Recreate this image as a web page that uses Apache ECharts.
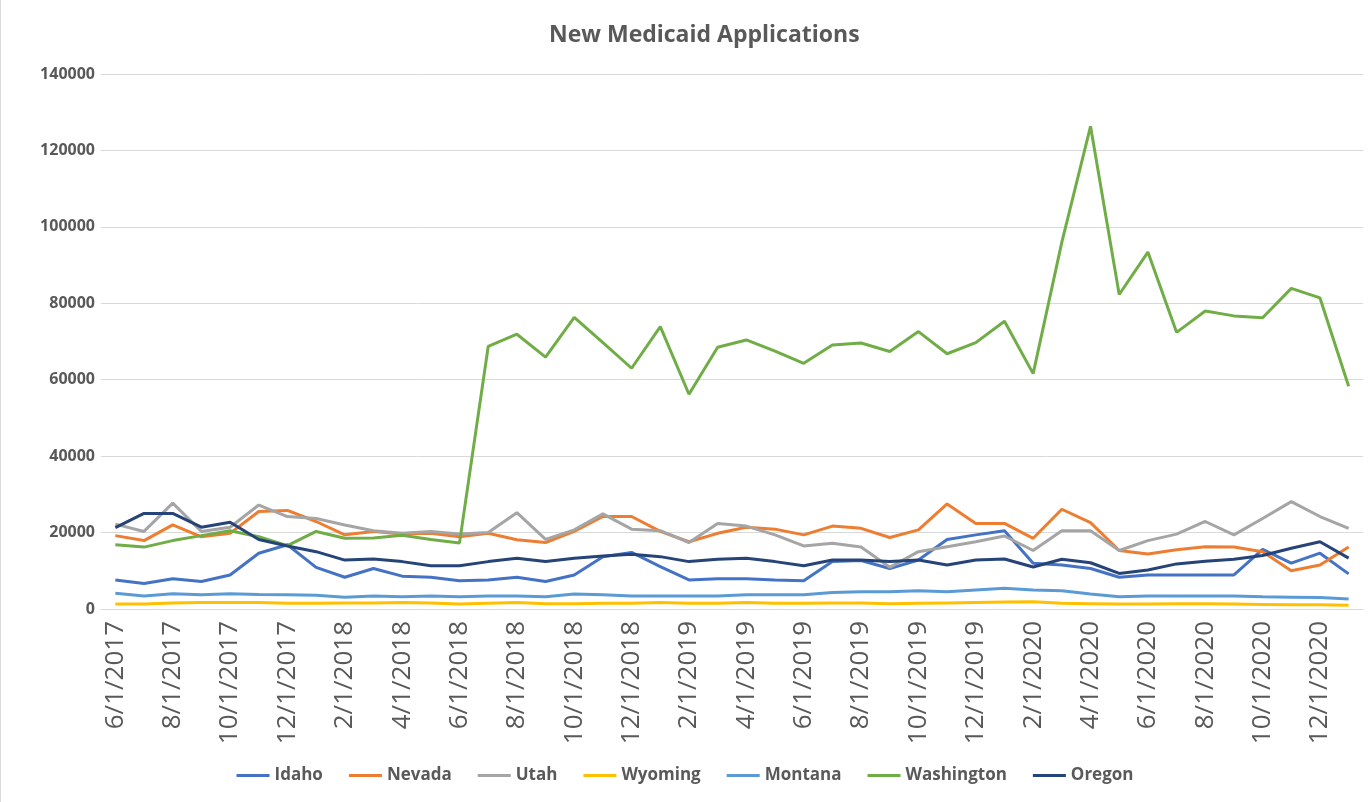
<!DOCTYPE html>
<html>
<head>
<meta charset="utf-8">
<title>New Medicaid Applications</title>
<script src="https://cdn.jsdelivr.net/npm/echarts@6/dist/echarts.min.js"></script>
<style>
    html, body { margin: 0; padding: 0; background: #fff; }
    #chart { width: 1369px; height: 802px; box-sizing: border-box; border-left: 1px solid #d9d9d9; }
</style>
</head>
<body>
<div id="chart"></div>
<script>
// 月份（类目轴）
const months = [
    "6/1/2017", "7/1/2017", "8/1/2017", "9/1/2017", "10/1/2017", "11/1/2017", "12/1/2017",
    "1/1/2018", "2/1/2018", "3/1/2018", "4/1/2018", "5/1/2018", "6/1/2018", "7/1/2018",
    "8/1/2018", "9/1/2018", "10/1/2018", "11/1/2018", "12/1/2018",
    "1/1/2019", "2/1/2019", "3/1/2019", "4/1/2019", "5/1/2019", "6/1/2019", "7/1/2019",
    "8/1/2019", "9/1/2019", "10/1/2019", "11/1/2019", "12/1/2019",
    "1/1/2020", "2/1/2020", "3/1/2020", "4/1/2020", "5/1/2020", "6/1/2020", "7/1/2020",
    "8/1/2020", "9/1/2020", "10/1/2020", "11/1/2020", "12/1/2020",
    "1/1/2021"
];
// 各州数据
const idaho = [7600, 6700, 7900, 7200, 8900, 14600, 16800, 10900, 8300, 10600, 8600, 8300, 7400, 7600, 8300, 7200, 8900, 13700, 14800, 11100, 7600, 7900, 7900, 7600, 7400, 12400, 12700, 10600, 12800, 18200, 19400, 20500, 12000, 11500, 10600, 8300, 8900, 8900, 8900, 8900, 15600, 12000, 14600, 9200];
const nevada = [19200, 17900, 22000, 18900, 19800, 25500, 25800, 22900, 19400, 20300, 19600, 19800, 18900, 19800, 18100, 17400, 20300, 24200, 24200, 20300, 17600, 19800, 21400, 20900, 19400, 21700, 21100, 18700, 20700, 27500, 22400, 22400, 18500, 26100, 22600, 15300, 14400, 15500, 16300, 16200, 15000, 10000, 11500, 16200];
const utah = [22200, 20300, 27700, 20300, 21400, 27200, 24200, 23700, 22000, 20500, 19800, 20300, 19600, 20000, 25200, 18200, 20700, 24900, 20900, 20500, 17400, 22400, 21700, 19400, 16500, 17200, 16200, 10900, 15000, 16300, 17600, 19100, 15300, 20500, 20500, 15300, 17900, 19600, 22900, 19400, 23700, 28100, 24200, 21100];
const wyoming = [1300, 1300, 1600, 1700, 1700, 1700, 1500, 1500, 1600, 1600, 1700, 1600, 1300, 1500, 1700, 1400, 1400, 1500, 1500, 1700, 1500, 1500, 1700, 1500, 1500, 1600, 1600, 1400, 1500, 1600, 1700, 1800, 1900, 1500, 1400, 1300, 1300, 1400, 1400, 1300, 1200, 1100, 1100, 1000];
const montana = [4100, 3400, 4000, 3700, 4000, 3800, 3700, 3600, 3100, 3400, 3200, 3400, 3200, 3400, 3400, 3200, 3900, 3700, 3400, 3400, 3400, 3400, 3700, 3700, 3700, 4300, 4500, 4500, 4800, 4500, 5000, 5400, 5000, 4800, 3900, 3200, 3400, 3400, 3400, 3400, 3200, 3100, 3000, 2600];
const washington = [16800, 16200, 17900, 19200, 20500, 18900, 16600, 20300, 18500, 18600, 19300, 18200, 17300, 68700, 71900, 65900, 76300, 69700, 63000, 73900, 56200, 68500, 70400, 67500, 64300, 69100, 69600, 67400, 72600, 66800, 69700, 75300, 61600, 96000, 126300, 82300, 93400, 72400, 78000, 76700, 76200, 83900, 81400, 58300];
const oregon = [21300, 25000, 25000, 21400, 22700, 18200, 16500, 15000, 12800, 13100, 12400, 11300, 11300, 12400, 13300, 12400, 13300, 13900, 14300, 13700, 12400, 13000, 13300, 12400, 11300, 12800, 12800, 12400, 12800, 11500, 12800, 13100, 11000, 13000, 12100, 9300, 10200, 11800, 12500, 13000, 14000, 15900, 17600, 13300];

(function () {
    const my_echart = echarts.init(document.getElementById("chart")); //实例化echarts对象
    const text_color = "#595959";
    const grid_color = "#d9d9d9";
    const names = ["Idaho", "Nevada", "Utah", "Wyoming", "Montana", "Washington", "Oregon"];
    const values = [idaho, nevada, utah, wyoming, montana, washington, oregon];
    let option = {
        animation: false,
        color: ["#4472c4", "#ed7d31", "#a5a5a5", "#ffc000", "#5b9bd5", "#70ad47", "#264478"],
        title: {
            text: "New Medicaid Applications",
            left: 543,
            top: 19,
            textStyle: {
                color: text_color,
                fontFamily: "Open Sans",
                fontSize: 23,
                fontWeight: "bold"
            }
        },
        legend: {
            bottom: 13,
            left: "center",
            icon: "rect",
            itemWidth: 33,
            itemHeight: 3,
            itemGap: 26,
            textStyle: {
                color: text_color,
                fontFamily: "Open Sans",
                fontSize: 17,
                fontWeight: "bold"
            },
            data: names
        },
        grid: {
            left: 100,
            right: 6,
            top: 74,
            bottom: 193
        },
        xAxis: {
            type: "category",
            data: months,
            boundaryGap: true,
            axisLine: { lineStyle: { color: grid_color, width: 1 } },
            axisTick: { interval: 1, length: 9, lineStyle: { color: grid_color } },
            axisLabel: {
                interval: 1,
                rotate: 90,
                margin: 12,
                color: text_color,
                fontFamily: "Open Sans",
                fontSize: 26
            }
        },
        yAxis: {
            type: "value",
            min: 0,
            max: 140000,
            interval: 20000,
            axisLine: { show: false },
            axisTick: { show: false },
            axisLabel: {
                margin: 6,
                color: text_color,
                fontFamily: "Open Sans",
                fontSize: 16,
                fontWeight: "bold",
                formatter: function (v) { return String(v); } //不显示千分位
            },
            splitLine: { lineStyle: { color: grid_color, width: 1 } }
        },
        series: names.map(function (name, i) {
            return {
                name: name,
                type: "line",
                symbol: "none",
                lineStyle: { width: 3 },
                data: values[i]
            };
        })
    }; //配置项
    my_echart.setOption(option);
})();
</script>
</body>
</html>
